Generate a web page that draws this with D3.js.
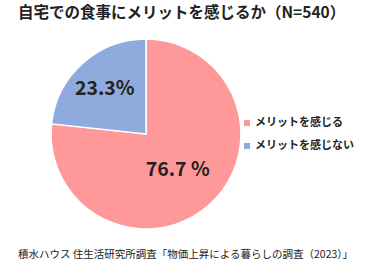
<!DOCTYPE html>
<html>
<head>
<meta charset="utf-8">
<script src="https://cdn.jsdelivr.net/npm/d3@7"></script>
<style>
  body { margin: 0; background: #fff; }
  svg { display: block; }
  text { font-family: "Noto Sans CJK JP", "Noto Sans", sans-serif; fill: #222; }
</style>
</head>
<body>
<svg width="384" height="268"></svg>
<script>
  // data
  const categories = ["メリットを感じる", "メリットを感じない"];
  const values = [76.7, 23.3];
  const labels = ["76.7 %", "23.3%"];
  const colors = ["#ff9999", "#8faadc"];
  const title = "自宅での食事にメリットを感じるか（N=540）";
  const source = "積水ハウス 住生活研究所調査「物価上昇による暮らしの調査（2023）」";

  const svg = d3.select("svg");

  svg.append("text")
    .attr("x", 18).attr("y", 18)
    .attr("font-size", 15.5).attr("font-weight", "bold")
    .text(title);

  const cx = 146, cy = 134, r = 95;
  const g = svg.append("g").attr("transform", `translate(${cx},${cy})`);

  const pie = d3.pie().sort(null).value(d => d);
  const arcs = pie(values);
  const arc = d3.arc().innerRadius(0).outerRadius(r);

  g.selectAll("path")
    .data(arcs)
    .enter()
    .append("path")
    .attr("d", arc)
    .attr("fill", (d, i) => colors[i])
    .attr("stroke", "#fff")
    .attr("stroke-width", 1.5);

  // label radius differs per slice, as in the original
  const labelR = [0.5, 0.65];
  g.selectAll(".lbl")
    .data(arcs)
    .enter()
    .append("text")
    .attr("class", "lbl")
    .attr("transform", (d, i) => {
      const a = d3.arc().innerRadius(r * labelR[i]).outerRadius(r * labelR[i]);
      return `translate(${a.centroid(d)})`;
    })
    .attr("text-anchor", "middle")
    .attr("dy", "0.36em")
    .attr("font-size", 19.5)
    .attr("font-weight", "bold")
    .text((d, i) => labels[i]);

  const legend = svg.append("g").attr("transform", "translate(244,122)");
  const items = legend.selectAll("g")
    .data(categories)
    .enter()
    .append("g")
    .attr("transform", (d, i) => `translate(0,${i * 23})`);
  items.append("rect")
    .attr("x", 0).attr("y", -2)
    .attr("width", 6).attr("height", 6)
    .attr("fill", (d, i) => colors[i]);
  items.append("text")
    .attr("x", 11).attr("dy", "0.36em")
    .attr("font-size", 11).attr("font-weight", "bold")
    .text(d => d);

  svg.append("text")
    .attr("x", 18).attr("y", 258)
    .attr("font-size", 10.5)
    .text(source);
</script>
</body>
</html>
